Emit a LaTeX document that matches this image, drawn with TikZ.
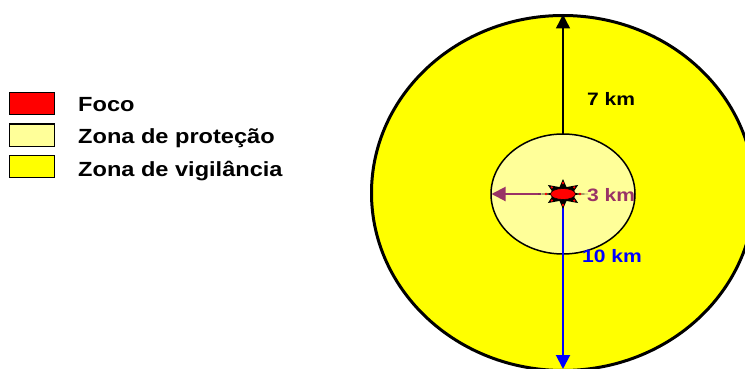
\documentclass[tikz,border=0pt]{standalone}
\usepackage{fontspec}
\setmainfont{Liberation Sans}
\usetikzlibrary{arrows.meta}
\definecolor{zyellow}{HTML}{FFFF00}
\definecolor{zlight}{HTML}{FFFF99}
\definecolor{zred}{HTML}{FF0000}
\definecolor{zpurple}{HTML}{993366}
\definecolor{zblue}{HTML}{0000FF}
\tikzset{
  legbox/.style={draw=black, line width=1.4pt},
  legtext/.style={anchor=base west, inner sep=0pt, font=\bfseries\fontsize{20.5}{24}\selectfont},
  kmlabel/.style={anchor=base, inner sep=0pt, font=\bfseries\fontsize{18}{20}\selectfont},
  arr/.style={-{Triangle[length=14pt,width=14pt]}},
}
\begin{document}
\begin{tikzpicture}[x=1pt,y=-1pt]
\useasboundingbox (0,0) rectangle (745,369);
\begin{scope}
\clip (0,0) rectangle (745,369);
% outer zone
\draw[fill=zyellow, line width=3pt] (563,193) ellipse [x radius=191.5, y radius=177.5];
% inner zone
\draw[fill=zlight, line width=1.5pt] (563,194) ellipse [x radius=72, y radius=60];
\coordinate (itop) at (563,134);
\coordinate (otop) at (563,14.5);
\coordinate (ileft) at (491.5,194);
\coordinate (sleft) at (541,194);
\coordinate (cbot) at (563,200);
\coordinate (obot) at (563,369);
% arrows
\draw[arr, line width=1.4pt, black] (itop) -- (otop);
\draw[arr, line width=2pt, zpurple] (sleft) -- (ileft);
\draw[arr, line width=2pt, zblue] (cbot) -- (obot);
% focus star
\begin{scope}[shift={(563,194)}]
\fill[black] (0:25 and 2) -- (12:10 and 5) -- (37:19 and 15) -- (60:7 and 8) -- (90:1.5 and 15) -- (120:7 and 8) -- (143:19 and 15) -- (168:10 and 5) -- (180:25 and 2)
  -- (192:10 and 5) -- (217:19 and 15) -- (240:7 and 8) -- (270:1.5 and 15) -- (300:7 and 8) -- (323:19 and 15) -- (348:10 and 5) -- cycle;
\foreach \a in {37,90,143,217,270,323} \fill[zred] (\a:14 and 11) circle [radius=1.3];
\fill[zred] (0:17 and 0) circle [radius=1.3];
\fill[zred] (180:17 and 0) circle [radius=1.3];
\draw[fill=zred, line width=0.6pt] (0,0) ellipse [x radius=12.5, y radius=5.5];
\end{scope}
\end{scope}
% labels
\node[kmlabel, black] (l7) at (611,105.7) {\scalebox{1.17}[1]{7 km}};
\node[kmlabel, zpurple] (l3) at (611,201.5) {\scalebox{1.17}[1]{3 km}};
\node[kmlabel, zblue] (l10) at (612,262.5) {\scalebox{1.17}[1]{10 km}};
% legend
\draw[legbox, fill=zred] (9.5,92.5) rectangle (54.5,114.5);
\draw[legbox, fill=zlight] (9.5,124) rectangle (54.5,146.5);
\draw[legbox, fill=zyellow] (9.5,155.5) rectangle (54.5,177.5);
\node[legtext] (f) at (78,111.7) {\scalebox{1.15}[1]{Foco}};
\node[legtext] (p) at (78,143.5) {\scalebox{1.15}[1]{Zona de proteção}};
\node[legtext] (v) at (78,176.7) {\scalebox{1.15}[1]{Zona de vigilância}};
\end{tikzpicture}
\end{document}
